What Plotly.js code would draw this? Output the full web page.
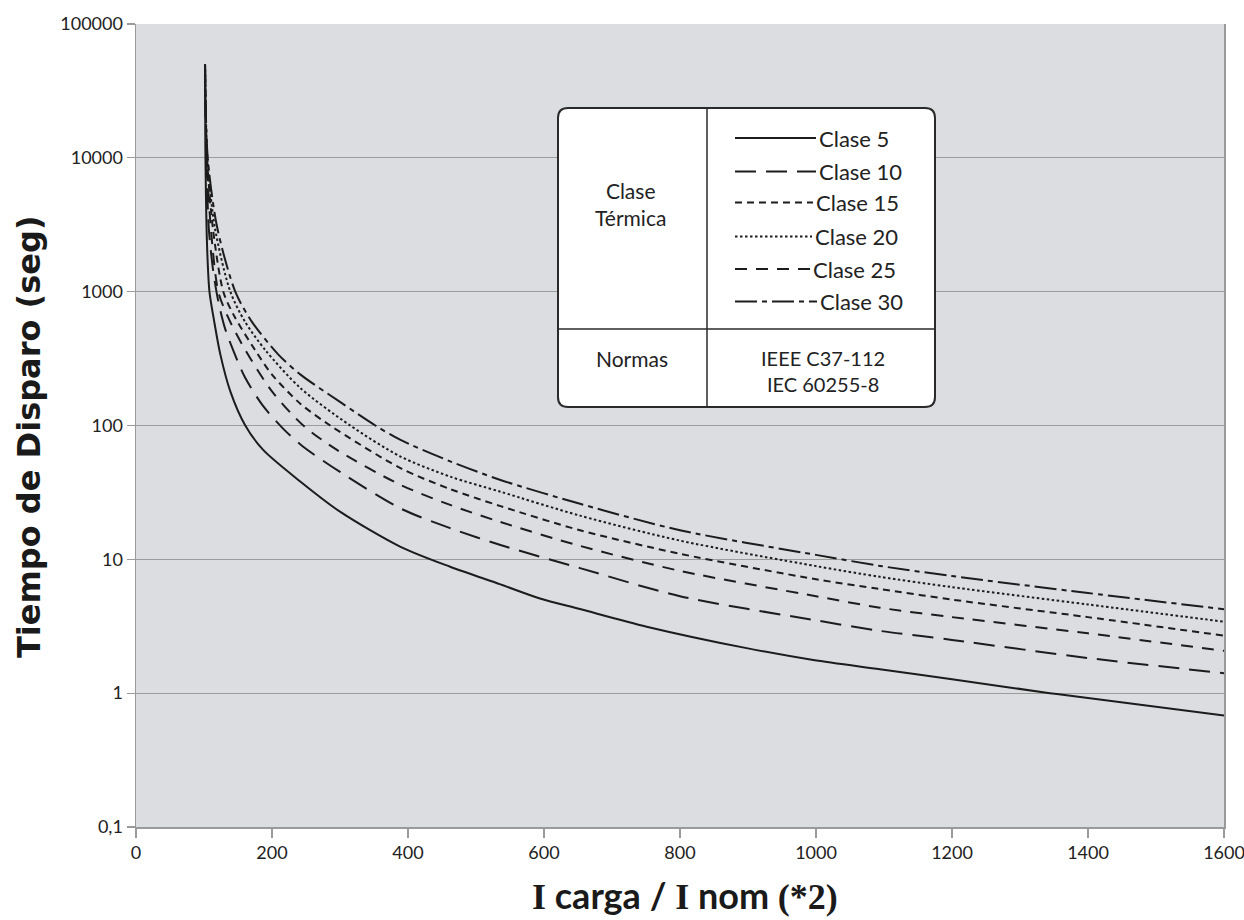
<!DOCTYPE html>
<html>
<head>
<meta charset="utf-8">
<script src="https://cdn.plot.ly/plotly-3.0.1.min.js"></script>
<style>
html,body{margin:0;padding:0;background:#fff;}
#chart{width:1244px;height:920px;}
</style>
</head>
<body>
<div id="chart"></div>
<script>
// ---------- DATA ----------
// x: I carga / I nom ; y: Tiempo de disparo (s)
const xClase5  = [101.5, 102, 104.4, 108, 115, 124, 138.7, 160.7, 187, 242, 300, 389, 462, 536, 594, 653, 751, 898, 996, 1094, 1200, 1344, 1400, 1600];
const tClase5  = [50000, 12000, 2300, 1000, 600, 340, 180, 100, 65.7, 38, 22.7, 12.4, 8.8, 6.5, 5.1, 4.25, 3.14, 2.17, 1.77, 1.51, 1.27, 1.0, 0.92, 0.68];

const xClase10 = [101.5, 103.5, 107, 113, 120, 130, 142, 160, 186, 217, 245, 300, 389, 462, 536, 653, 800, 1000, 1094, 1200, 1400, 1600];
const tClase10 = [50000, 10000, 3000, 1500, 900, 550, 375, 230, 142, 94, 70, 45, 24, 17.1, 12.8, 8.6, 5.3, 3.5, 2.92, 2.5, 1.83, 1.41];

// short dashes (legend: Clase 15)
const xClase15 = [101.5, 104.5, 113, 128.4, 145, 175, 200, 242, 285.6, 389, 462, 536, 653, 800, 1000, 1094, 1200, 1400, 1600];
const tClase15 = [50000, 10000, 3000, 1000, 650, 367, 240, 145, 100, 48, 33.5, 25, 16.5, 11, 7.1, 6.0, 5.0, 3.7, 2.69];

// dotted (legend: Clase 20)
const xClase20 = [101.5, 105, 116, 138.7, 160, 190, 242, 315, 389, 462, 536, 653, 800, 1000, 1094, 1200, 1400, 1600];
const tClase20 = [50000, 10000, 3000, 1000, 600, 367, 190, 100, 58.6, 41.5, 32, 21.2, 13.8, 8.9, 7.4, 6.2, 4.6, 3.42];

// medium dashes (legend: Clase 25)
const xClase25 = [101.5, 104, 110, 121, 135, 160.7, 200, 246, 295.5, 389, 462, 536, 653, 800, 1000, 1094, 1200, 1400, 1600];
const tClase25 = [50000, 10000, 3000, 1000, 650, 367, 180, 100, 65.7, 36, 25.5, 19, 12.6, 8.2, 5.3, 4.35, 3.7, 2.8, 2.07];

// dash-dot (legend: Clase 30)
const xClase30 = [101.5, 105.5, 119.5, 146, 170, 209, 242, 300, 352, 389, 462, 536, 653, 800, 1000, 1094, 1200, 1400, 1600];
const tClase30 = [50000, 10000, 3000, 1000, 600, 340, 240, 150, 100, 78, 54, 39.2, 26, 16.5, 10.8, 8.93, 7.5, 5.6, 4.24];

const yTickVals = [0.1, 1, 10, 100, 1000, 10000, 100000];
const yTickText = ['0,1', '1', '10', '100', '1000', '10000', '100000'];
const xTickVals = [0, 200, 400, 600, 800, 1000, 1200, 1400, 1600];

const legendLabels = ['Clase 5', 'Clase 10', 'Clase 15', 'Clase 20', 'Clase 25', 'Clase 30'];
const normas = ['IEEE C37-112', 'IEC 60255-8'];

// ---------- STYLE ----------
const INK = '#1c1c1c';
const dashes = {
  c5: 'solid',
  c10: '21px,10px',
  c15: '7px,5px',
  c20: '2.5px,2.5px',
  c25: '12px,9px',
  c30: '22px,5px,5px,5px'
};
function tr(x, y, name, dash) {
  return {x: x, y: y, name: name, type: 'scatter', mode: 'lines',
    line: {color: INK, width: 2, dash: dash, shape: 'spline', smoothing: 0.8},
    hoverinfo: 'x+y+name', showlegend: false};
}
const data = [
  tr(xClase30, tClase30, 'Clase 30', dashes.c30),
  tr(xClase20, tClase20, 'Clase 20', dashes.c20),
  tr(xClase15, tClase15, 'Clase 15', dashes.c15),
  tr(xClase25, tClase25, 'Clase 25', dashes.c25),
  tr(xClase10, tClase10, 'Clase 10', dashes.c10),
  tr(xClase5,  tClase5,  'Clase 5',  dashes.c5)
];

// pixel -> paper helpers for the legend table
const L = 136, R = 1224, T = 24, B = 827;
const PX = x => (x - L) / (R - L);
const PY = y => (B - y) / (B - T);

const box = {x0: 558, x1: 935, y0: 108, y1: 407, r: 10};
const divX = 707, divY = 329;
const rx = box.r / (R - L), ry = box.r / (B - T);
const bx0 = PX(box.x0), bx1 = PX(box.x1), by0 = PY(box.y1), by1 = PY(box.y0);
const boxPath = `M ${bx0+rx},${by1} L ${bx1-rx},${by1} Q ${bx1},${by1} ${bx1},${by1-ry} L ${bx1},${by0+ry} Q ${bx1},${by0} ${bx1-rx},${by0} L ${bx0+rx},${by0} Q ${bx0},${by0} ${bx0},${by0+ry} L ${bx0},${by1-ry} Q ${bx0},${by1} ${bx0+rx},${by1} Z`;

const shapes = [
  {type: 'path', xref: 'paper', yref: 'paper', path: boxPath, fillcolor: '#ffffff', line: {color: '#2a2a2a', width: 2}, layer: 'above'},
  {type: 'line', xref: 'paper', yref: 'paper', x0: PX(divX), x1: PX(divX), y0: by0, y1: by1, line: {color: '#2a2a2a', width: 1.5}, layer: 'above'},
  {type: 'line', xref: 'paper', yref: 'paper', x0: bx0, x1: bx1, y0: PY(divY), y1: PY(divY), line: {color: '#2a2a2a', width: 1.5}, layer: 'above'}
];
const rowY = [138, 171.5, 202.5, 236.5, 269, 301.5];
const sampleDash = [dashes.c5, dashes.c10, dashes.c15, dashes.c20, dashes.c25, dashes.c30];
const sampleEnd = [816, 816, 813, 812, 810, 817];
const annotations = [];
const boxFont = {family: 'Lato, sans-serif', size: 22, color: '#222'};
rowY.forEach((y, i) => {
  shapes.push({type: 'line', xref: 'paper', yref: 'paper', x0: PX(735), x1: PX(sampleEnd[i]), y0: PY(y), y1: PY(y),
    line: {color: INK, width: 2, dash: sampleDash[i]}, layer: 'above'});
  annotations.push({xref: 'paper', yref: 'paper', x: PX(sampleEnd[i] + 1), y: PY(y), xanchor: 'left', yanchor: 'middle',
    text: legendLabels[i], showarrow: false, font: boxFont});
});
annotations.push({xref: 'paper', yref: 'paper', x: PX(630), y: PY(204), xanchor: 'center', yanchor: 'middle',
  text: 'Clase<br>Térmica', showarrow: false, font: {family: 'Lato, sans-serif', size: 21, color: '#222'}});
annotations.push({xref: 'paper', yref: 'paper', x: PX(632), y: PY(358), xanchor: 'center', yanchor: 'middle',
  text: 'Normas', showarrow: false, font: {family: 'Lato, sans-serif', size: 21, color: '#222'}});
annotations.push({xref: 'paper', yref: 'paper', x: PX(823), y: PY(371), xanchor: 'center', yanchor: 'middle',
  text: normas.join('<br>'), showarrow: false, font: {family: 'Lato, sans-serif', size: 20, color: '#222'}});

// axis titles
annotations.push({xref: 'paper', yref: 'paper', x: PX(29), y: PY(437), xanchor: 'center', yanchor: 'middle', textangle: -90,
  text: '<b>Tiempo de Disparo (seg)</b>', showarrow: false, font: {family: 'DejaVu Sans, sans-serif', size: 32, color: '#1a1a1a'}});
annotations.push({xref: 'paper', yref: 'paper', x: PX(685), y: PY(895), xanchor: 'center', yanchor: 'middle',
  text: "<b><span style='font-family:Liberation Serif'>I</span> carga / <span style='font-family:Liberation Serif'>I</span> nom <span style='font-family:Liberation Serif'>(*2)</span></b>",
  showarrow: false, font: {family: 'Lato, sans-serif', size: 36, color: '#1a1a1a'}});

const tickFont = {family: 'Lato, sans-serif', size: 18, color: '#222'};
const layout = {
  width: 1244, height: 920,
  margin: {l: L, r: 1244 - R, t: T, b: 920 - B, pad: 0},
  paper_bgcolor: '#ffffff',
  plot_bgcolor: '#dcdde0',
  xaxis: {
    range: [0, 1600], tickvals: xTickVals, ticktext: xTickVals.map(String),
    showgrid: false, zeroline: false, showline: true, linecolor: '#9a9a9a', linewidth: 1.5,
    ticks: 'outside', ticklen: 9, tickcolor: '#9a9a9a', tickwidth: 1.2, tickfont: tickFont,
    ticklabeloverflow: 'allow'
  },
  yaxis: {
    type: 'log', range: [-1, 5], tickvals: yTickVals, ticktext: yTickText,
    showgrid: true, gridcolor: '#9c9c9c', gridwidth: 1.2, zeroline: false,
    showline: true, mirror: true, linecolor: '#9a9a9a', linewidth: 1.5,
    ticks: 'outside', ticklen: 8, tickcolor: '#9a9a9a', tickwidth: 1.2, tickfont: tickFont,
    ticklabeloverflow: 'allow'
  },
  shapes: shapes,
  annotations: annotations,
  showlegend: false
};
Plotly.newPlot('chart', data, layout, {displayModeBar: false, staticPlot: true});
</script>
</body>
</html>
